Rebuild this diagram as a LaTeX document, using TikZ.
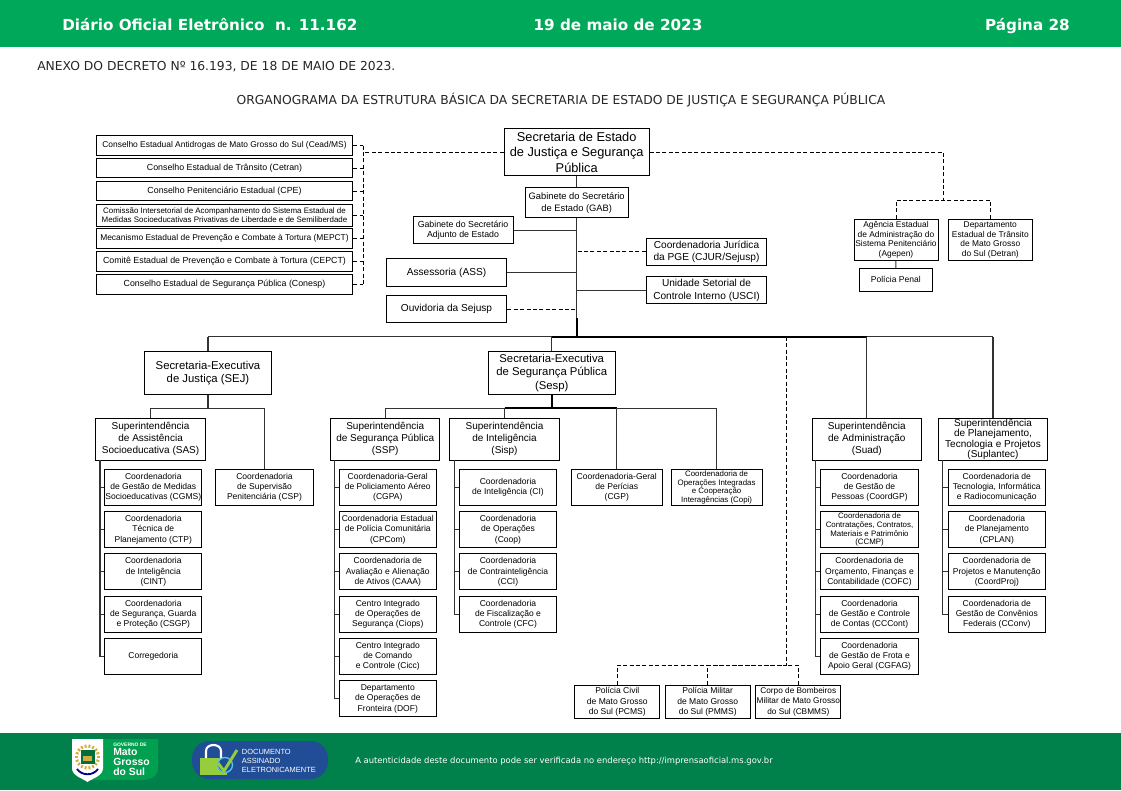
\documentclass[tikz,border=0pt]{standalone}
\usepackage{fontspec}
\setmainfont{Liberation Sans}
\newfontfamily\verd{DejaVu Sans}
\usetikzlibrary{calc}

\definecolor{headgreen}{RGB}{0,168,89}
\definecolor{footgreen}{RGB}{0,128,74}
\definecolor{sealgreen}{RGB}{0,160,80}
\definecolor{pillblue}{RGB}{33,76,150}
\definecolor{lockgreen}{RGB}{150,205,60}
\definecolor{crestgold}{RGB}{214,170,60}

\tikzset{
  orgbox/.style={draw=black, line width=0.75pt, fill=white, inner sep=0pt, align=center},
  coordbox/.style={orgbox, minimum width=73pt, minimum height=27pt, font=\fontsize{6.4}{7.7}\selectfont},
  tightbox/.style={coordbox, font=\fontsize{5.9}{6.5}\selectfont},
  supbox/.style={orgbox, minimum width=82pt, minimum height=31.5pt, font=\fontsize{7.5}{9}\selectfont},
  execbox/.style={orgbox, minimum width=95.5pt, minimum height=32pt, font=\fontsize{8.5}{10}\selectfont},
  conselho/.style={orgbox, minimum width=192.5pt, minimum height=14.5pt, font=\fontsize{6.3}{7}\selectfont},
  conselhoLargo/.style={conselho, font=\fontsize{6.62}{7}\selectfont},
  midbox/.style={orgbox, minimum width=90.5pt, minimum height=20.5pt, font=\fontsize{7.6}{9.4}\selectfont},
  vinc/.style={coordbox, minimum width=64pt, minimum height=25pt},
  autarquia/.style={vinc, minimum width=63pt, minimum height=31pt, font=\fontsize{6.3}{7.2}\selectfont},
  lig/.style={line width=0.85pt, draw=black!80},
  ligforte/.style={line width=1.4pt, draw=black},
  tracejado/.style={line width=0.75pt, draw=black, dash pattern=on 3pt off 1.8pt},
  cabecalho/.style={white, inner sep=0pt, font=\verd\bfseries\fontsize{11.4}{13}\selectfont},
  corrido/.style={inner sep=0pt, text=black!85, font=\verd\fontsize{9.25}{11}\selectfont},
}

\begin{document}
\begin{tikzpicture}[x=0.75pt,y=-0.75pt]
  \useasboundingbox (0,0) rectangle (1121,790);
  % faixas
  \fill [headgreen] (0,0) rectangle (1121,47);
  \fill [footgreen] (0,733) rectangle (1121,790);
  \node [cabecalho, anchor=base west] (tituloDiario) at (62,30.5) {Diário Oficial Eletrônico\ \ n. 11.162};
  \node [cabecalho, anchor=base] (dataDiario) at (618,30.5) {19 de maio de 2023};
  \node [cabecalho, anchor=base east] (paginaDiario) at (1070,30.5) {Página 28};
  \node [corrido, anchor=base west] (anexo) at (37,70) {ANEXO DO DECRETO Nº 16.193, DE 18 DE MAIO DE 2023.};
  \node [corrido, anchor=base] (organograma) at (561,104.3) {ORGANOGRAMA DA ESTRUTURA BÁSICA DA SECRETARIA DE ESTADO DE JUSTIÇA E SEGURANÇA PÚBLICA};

  % topo
  \node [orgbox, minimum width=108.5pt, minimum height=35.7pt, font=\fontsize{9.6}{11.6}\selectfont] (sejusp) at (576.7,152) {Secretaria de Estado\\de Justiça e Segurança\\Pública};
  \node [orgbox, minimum width=77.5pt, minimum height=22.5pt, font=\fontsize{7}{8.8}\selectfont] (gab) at (576.7,202.7) {Gabinete do Secretário\\de Estado (GAB)};
  \node [orgbox, minimum width=75pt, minimum height=20.3pt, font=\fontsize{6.6}{8}\selectfont] (adj) at (463,230.2) {Gabinete do Secretário\\Adjunto de Estado};
  \node [midbox] (ass) at (446.5,272.5) {Assessoria (ASS)};
  \node [midbox] (ouv) at (446.5,309.3) {Ouvidoria da Sejusp};
  \node [midbox] (cjur) at (706.5,251.8) {Coordenadoria Jurídica\\da PGE (CJUR/Sejusp)};
  \node [midbox] (usci) at (706.5,290.3) {Unidade Setorial de\\Controle Interno (USCI)};

  % conselhos
  \node [conselho] (cead) at (224.5,145.5) {Conselho Estadual Antidrogas de Mato Grosso do Sul (Cead/MS)};
  \node [conselhoLargo] (cetran) at (224.5,168) {Conselho Estadual de Trânsito (Cetran)};
  \node [conselhoLargo] (cpe) at (224.5,191) {Conselho Penitenciário Estadual (CPE)};
  \node [conselho, minimum height=16.5pt, font=\fontsize{5.95}{7}\selectfont] (comissao) at (224.5,215) {Comissão Intersetorial de Acompanhamento do Sistema Estadual de\\Medidas Socioeducativas Privativas de Liberdade e de Semiliberdade};
  \node [conselho] (mepct) at (224.5,238.5) {Mecanismo Estadual de Prevenção e Combate à Tortura (MEPCT)};
  \node [conselhoLargo] (cepct) at (224.5,261.5) {Comitê Estadual de Prevenção e Combate à Tortura (CEPCT)};
  \node [conselhoLargo] (conesp) at (224.5,284.5) {Conselho Estadual de Segurança Pública (Conesp)};

  % vinculadas
  \node [autarquia] (agepen) at (896,239.8) {Agência Estadual\\de Administração do\\Sistema Penitenciário\\(Agepen)};
  \node [autarquia] (detran) at (990.3,239.8) {Departamento\\Estadual de Trânsito\\de Mato Grosso\\do Sul (Detran)};
  \node [vinc, minimum width=55pt, minimum height=17pt] (penal) at (895.8,279.8) {Polícia Penal};

  % secretarias-executivas
  \node [execbox] (sej) at (208,373) {Secretaria-Executiva\\de Justiça (SEJ)};
  \node [execbox] (sesp) at (551.7,373) {Secretaria-Executiva\\de Segurança Pública\\(Sesp)};

  % superintendencias
  \node [supbox] (sas) at (150.6,439.3) {Superintendência\\de Assistência\\Socioeducativa (SAS)};
  \node [supbox] (ssp) at (385.2,439.3) {Superintendência\\de Segurança Pública\\(SSP)};
  \node [supbox] (sisp) at (504.5,439.3) {Superintendência\\de Inteligência\\(Sisp)};
  \node [supbox] (suad) at (866.8,439.3) {Superintendência\\de Administração\\(Suad)};
  \node [supbox, font=\fontsize{7.5}{7.7}\selectfont] (suplantec) at (993,439.3) {Superintendência\\de Planejamento,\\Tecnologia e Projetos\\(Suplantec)};

  % SEJ
  \node [coordbox] (cgms) at (153.3,487.3) {Coordenadoria\\de Gestão de Medidas\\Socioeducativas (CGMS)};
  \node [coordbox] (ctp) at (153.3,529.7) {Coordenadoria\\Técnica de\\Planejamento (CTP)};
  \node [coordbox] (cint) at (153.3,571.8) {Coordenadoria\\de Inteligência\\(CINT)};
  \node [coordbox] (csgp) at (153.3,614.2) {Coordenadoria\\de Segurança, Guarda\\e Proteção (CSGP)};
  \node [coordbox] (corr) at (153.3,656.3) {Corregedoria};
  \node [coordbox] (csp) at (264.5,487.3) {Coordenadoria\\de Supervisão\\Penitenciária (CSP)};

  % SSP
  \node [coordbox] (cgpa) at (387.8,487.3) {Coordenadoria-Geral\\de Policiamento Aéreo\\(CGPA)};
  \node [coordbox] (cpcom) at (387.8,529.7) {Coordenadoria Estadual\\de Polícia Comunitária\\(CPCom)};
  \node [coordbox] (caaa) at (387.8,571.8) {Coordenadoria de\\Avaliação e Alienação\\de Ativos (CAAA)};
  \node [coordbox] (ciops) at (387.8,614.2) {Centro Integrado\\de Operações de\\Segurança (Ciops)};
  \node [coordbox] (cicc) at (387.8,656.3) {Centro Integrado\\de Comando\\e Controle (Cicc)};
  \node [coordbox] (dof) at (387.8,698.7) {Departamento\\de Operações de\\Fronteira (DOF)};

  % Sisp
  \node [coordbox] (ci) at (508,487.3) {Coordenadoria\\de Inteligência (CI)};
  \node [coordbox] (coop) at (508,529.7) {Coordenadoria\\de Operações\\(Coop)};
  \node [coordbox] (cci) at (508,571.8) {Coordenadoria\\de Contrainteligência\\(CCI)};
  \node [coordbox] (cfc) at (508,614.2) {Coordenadoria\\de Fiscalização e\\Controle (CFC)};

  \node [coordbox, minimum width=68.3pt] (cgp) at (616.8,487.3) {Coordenadoria-Geral\\de Perícias\\(CGP)};
  \node [tightbox, minimum width=68.3pt] (copi) at (716.6,487.3) {Coordenadoria de\\Operações Integradas\\e Cooperação\\Interagências (Copi)};

  % Suad
  \node [coordbox] (coordgp) at (869.5,487.3) {Coordenadoria\\de Gestão de\\Pessoas (CoordGP)};
  \node [tightbox] (ccmp) at (869.5,529.7) {Coordenadoria de\\Contratações, Contratos,\\Materiais e Patrimônio\\(CCMP)};
  \node [coordbox] (cofc) at (869.5,571.8) {Coordenadoria de\\Orçamento, Finanças e\\Contabilidade (COFC)};
  \node [coordbox] (cccont) at (869.5,614.2) {Coordenadoria\\de Gestão e Controle\\de Contas (CCCont)};
  \node [coordbox] (cgfag) at (869.5,656.3) {Coordenadoria\\de Gestão de Frota e\\Apoio Geral (CGFAG)};

  % Suplantec
  \node [coordbox] (ctir) at (996.8,487.3) {Coordenadoria de\\Tecnologia, Informática\\e Radiocomunicação};
  \node [coordbox] (cplan) at (996.8,529.7) {Coordenadoria\\de Planejamento\\(CPLAN)};
  \node [coordbox] (coordproj) at (996.8,571.8) {Coordenadoria de\\Projetos e Manutenção\\(CoordProj)};
  \node [coordbox] (cconv) at (996.8,614.2) {Coordenadoria de\\Gestão de Convênios\\Federais (CConv)};

  % forcas
  \node [vinc] (pcms) at (617.3,701.8) {Polícia Civil\\de Mato Grosso\\do Sul (PCMS)};
  \node [vinc] (pmms) at (707.7,701.8) {Polícia Militar\\de Mato Grosso\\do Sul (PMMS)};
  \node [vinc, font=\fontsize{6.2}{7.7}\selectfont] (cbms) at (798.3,701.8) {Corpo de Bombeiros\\Militar de Mato Grosso\\do Sul (CBMMS)};

  % pontos de juncao
  \coordinate (tronco) at (576.7,336.7);
  \coordinate (troncoForte) at (576.7,318);
  \coordinate (trilhoSej) at (208,408.3);
  \coordinate (trilhoSesp) at (551.7,408.3);
  \coordinate (conselhoTopo) at (363,151.7);
  \coordinate (conselhoFim) at (363,145.5);
  \coordinate (vincNo) at (943,200);
  \coordinate (forcaNo) at (786.7,665);
  \coordinate (sasT) at (100,460.3);
  \coordinate (sspT) at (334.3,460.3);
  \coordinate (sispT) at (454.3,460.3);
  \coordinate (suadT) at (815.3,460);
  \coordinate (suplT) at (942.3,460);

  % ligacoes do gabinete
  \draw [lig] (sejusp) -- (gab);
  \draw [lig] (gab) -- (troncoForte);
  \draw [ligforte] (troncoForte) -- (tronco);
  \draw [lig] (adj) -- (adj -| gab.south);
  \draw [lig] (ass) -- (ass -| gab.south);
  \draw [tracejado] (ouv) -- (ouv -| gab.south);
  \draw [tracejado] (cjur) -- (cjur -| gab.south);
  \draw [lig] (usci) -- (usci -| gab.south);

  % barramento
  \draw [lig] (sej |- tronco) -- (sesp |- tronco);
  \draw [ligforte] (sesp |- tronco) -- (suad |- tronco);
  \draw [lig] (suad |- tronco) -- (suplantec |- tronco);
  \draw [lig] (sej |- tronco) -- (sej);
  \draw [lig] (sesp |- tronco) -- (sesp);
  \draw [lig] (suad |- tronco) -- (suad);
  \draw [lig] (suplantec |- tronco) -- (suplantec);

  % SEJ e Sesp
  \draw [lig] (sej) -- (trilhoSej);
  \draw [lig] (sas |- trilhoSej) -- (csp |- trilhoSej);
  \draw [lig] (sas |- trilhoSej) -- (sas);
  \draw [lig] (csp |- trilhoSej) -- (csp);
  \draw [ligforte] (sesp) -- (trilhoSesp);
  \draw [lig] (ssp |- trilhoSesp) -- (sisp |- trilhoSesp);
  \draw [ligforte] (sisp |- trilhoSesp) -- (cgp |- trilhoSesp);
  \draw [lig] (cgp |- trilhoSesp) -- (copi |- trilhoSesp);
  \foreach \alvo in {ssp,sisp,cgp,copi}
    \draw [lig] (\alvo |- trilhoSesp) -- (\alvo);

  % coordenadorias
  \foreach \filho in {cgms,ctp,cint,csgp,corr}
    \draw [lig] (sasT) |- (\filho);
  \foreach \filho in {cgpa,cpcom,caaa,ciops,cicc,dof}
    \draw [lig] (sspT) |- (\filho);
  \foreach \filho in {ci,coop,cci,cfc}
    \draw [lig] (sispT) |- (\filho);
  \foreach \filho in {coordgp,ccmp,cofc,cccont,cgfag}
    \draw [lig] (suadT) |- (\filho);
  \foreach \filho in {ctir,cplan,coordproj,cconv}
    \draw [lig] (suplT) |- (\filho);

  % tracejadas
  \draw [tracejado] (sejusp) -- (sejusp -| conselhoTopo);
  \draw [tracejado] (conselhoFim) -- (conselhoFim |- conesp);
  \foreach \alvo in {cead,cetran,cpe,comissao,mepct,cepct,conesp}
    \draw [tracejado] (\alvo) -- (\alvo -| conselhoTopo);
  \draw [tracejado] (sejusp) -| (vincNo);
  \draw [tracejado] (agepen) |- (vincNo);
  \draw [tracejado] (detran) |- (vincNo);
  \draw [lig] (agepen) -- (penal);
  \draw [tracejado] (forcaNo |- tronco) -- (forcaNo);
  \foreach \alvo in {pcms,pmms,cbms}
    \draw [tracejado] (\alvo) |- (forcaNo);

  % brasao
  \fill [sealgreen] (90,739) -- (158,739) -- (158,768) .. controls (158,777) and (150,780) .. (140,780) -- (90,780) -- cycle;
  \fill [white] (72,739) -- (103,739) -- (103,768) .. controls (103,776) and (93,778) .. (87.5,782) .. controls (82,778) and (72,776) .. (72,768) -- cycle;
  \foreach \ang in {0,20,...,340}
    \draw [crestgold, line width=1.5pt] (87.5,757) -- ++(\ang:12.5);
  \fill [white] (87.5,757) circle (9.5);
  \fill [black!30!sealgreen] (80.5,750) rectangle (94.5,764);
  \fill [crestgold] (83,756) rectangle (92,761);
  \draw [blue!55!black, line width=1.4pt] (77,769) .. controls (82,776) and (93,776) .. (98,769);
  \node [white, font=\bfseries\fontsize{3.7}{4}\selectfont, anchor=base west, inner sep=0pt] (governo) at (113,746.5) {GOVERNO DE};
  \node [white, font=\bfseries\fontsize{7.8}{7.5}\selectfont, anchor=north west, inner sep=0pt, align=left] (mato) at (113,748.5) {Mato\\Grosso\\do Sul};

  % selo
  \fill [pillblue, rounded corners=13pt] (192,741) rectangle (328,779);
  \draw [white, line width=1.6pt] (206,758) -- (206,751) .. controls (206,743) and (221,743) .. (221,751) -- (221,758);
  \fill [lockgreen] (200,758) rectangle (227,775);
  \filldraw [fill=pillblue, draw=cyan!70!white, line width=1pt] (225,765) circle (7.5);
  \draw [lockgreen, line width=2.2pt] (218,763) -- (224,771) -- (237,750);
  \node [white, font=\fontsize{5.6}{6.8}\selectfont, anchor=west, inner sep=0pt, align=left] (selo) at (241.7,761) {DOCUMENTO\\ASSINADO\\ELETRONICAMENTE};

  \node [white, font=\verd\fontsize{6.3}{7}\selectfont, anchor=west, inner sep=0pt] (autent) at (355,761) {A autenticidade deste documento pode ser verificada no endereço http://imprensaoficial.ms.gov.br};
\end{tikzpicture}
\end{document}
